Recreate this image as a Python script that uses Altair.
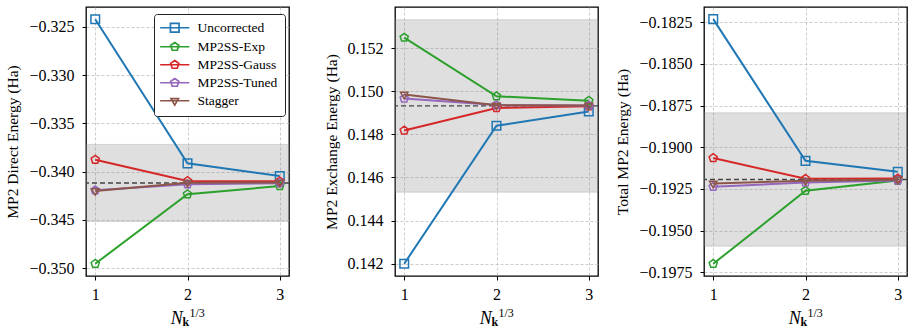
import altair as alt
import pandas as pd

# k-point mesh size (cube root of N_k)
n_k = [1, 2, 3]

series = ["Uncorrected", "MP2SS-Exp", "MP2SS-Gauss", "MP2SS-Tuned", "Stagger"]
colors = ["#1f77b4", "#2ca02c", "#d62728", "#9467bd", "#8c564b"]

# MP2 direct energy (Ha)
direct_uncorrected = [-0.32420, -0.33914, -0.34046]
direct_exp = [-0.34955, -0.34235, -0.34149]
direct_gauss = [-0.33876, -0.34097, -0.34100]
direct_tuned = [-0.34194, -0.34132, -0.34120]
direct_stagger = [-0.34200, -0.34114, -0.34113]

# MP2 exchange energy (Ha)
exchange_uncorrected = [0.14200, 0.14840, 0.14906]
exchange_exp = [0.15249, 0.14977, 0.14956]
exchange_gauss = [0.14818, 0.14922, 0.14931]
exchange_tuned = [0.14966, 0.14936, 0.14934]
exchange_stagger = [0.14985, 0.14935, 0.14934]

# total MP2 energy (Ha)
total_uncorrected = [-0.18232, -0.19082, -0.19148]
total_exp = [-0.19700, -0.19262, -0.19200]
total_gauss = [-0.19065, -0.19190, -0.19188]
total_tuned = [-0.19238, -0.19212, -0.19200]
total_stagger = [-0.19218, -0.19202, -0.19195]

# converged reference and the +/- 4 mHa window around it
ref_values = [-0.34118, 0.14932, -0.19194]
band_lo = [-0.34518, 0.14532, -0.19594]
band_hi = [-0.33718, 0.15332, -0.18794]

y_titles = ["MP2 Direct Energy (Ha)", "MP2 Exchange Energy (Ha)", "Total MP2 Energy (Ha)"]
y_domains = [[-0.35082, -0.32293], [0.14143, 0.15391], [-0.19773, -0.18159]]
y_ticks = [
    [-0.350, -0.345, -0.340, -0.335, -0.330, -0.325],
    [0.142, 0.144, 0.146, 0.148, 0.150, 0.152],
    [-0.1975, -0.1950, -0.1925, -0.1900, -0.1875, -0.1850, -0.1825],
]
y_formats = [".3f", ".3f", ".4f"]

panels = [
    [direct_uncorrected, direct_exp, direct_gauss, direct_tuned, direct_stagger],
    [exchange_uncorrected, exchange_exp, exchange_gauss, exchange_tuned, exchange_stagger],
    [total_uncorrected, total_exp, total_gauss, total_tuned, total_stagger],
]

PLOT_W = 203
PLOT_H = 269
FONT = "Liberation Serif"

PENTAGON = "M0,-1L0.951,-0.309L0.588,0.809L-0.588,0.809L-0.951,-0.309Z"
TRI_DOWN = "M0,1L-0.866,-0.5L0.866,-0.5Z"
SQUARE_PATH = "M-1,-1L1,-1L1,1L-1,1Z"
markers = ["square", PENTAGON, PENTAGON, PENTAGON, TRI_DOWN]

# legend glyphs: a short line with the hollow marker sitting on it
LINE = "M-3.4,0L3.4,0"
legend_glyphs = [LINE + SQUARE_PATH, LINE + PENTAGON, LINE + PENTAGON, LINE + PENTAGON, LINE + TRI_DOWN]

legend = alt.Legend(
    title=None,
    orient="none",
    legendX=68,
    legendY=7,
    padding=7,
    symbolOffset=7,
    labelOffset=16,
    rowPadding=3,
    symbolSize=74,
    symbolStrokeWidth=1.7,
    symbolOpacity=1,
    labelFont=FONT,
    labelFontSize=13.5,
    labelFontWeight="normal",
    labelColor="black",
    strokeColor="#222222",
    cornerRadius=3,
    fillColor="white",
)


def x_title_part(text, x, dy, size, style="normal", weight="normal"):
    return (
        alt.Chart(pd.DataFrame({"t": [text]}))
        .mark_text(
            align="left",
            baseline="alphabetic",
            font=FONT,
            fontSize=size,
            fontStyle=style,
            fontWeight=weight,
            color="black",
        )
        .encode(text="t:N", x=alt.value(x), y=alt.value(PLOT_H + dy))
    )


def make_panel(i):
    rows = []
    for name, vals in zip(series, panels[i]):
        for xv, yv in zip(n_k, vals):
            rows.append({"n_k": xv, "energy": yv, "series": name})
    df = pd.DataFrame(rows)

    x_enc = alt.X(
        "n_k:Q",
        scale=alt.Scale(domain=[0.9, 3.1], nice=False, zero=False),
        axis=alt.Axis(values=n_k, format="d", title=None, labelPadding=6),
    )
    y_scale = alt.Scale(domain=y_domains[i], nice=False, zero=False)
    y_axis = alt.Axis(
        values=y_ticks[i], format=y_formats[i], title=y_titles[i],
        labelPadding=8, titlePadding=8,
    )
    y_enc = alt.Y("energy:Q", scale=y_scale, axis=y_axis)

    band = (
        alt.Chart(pd.DataFrame({"lo": [band_lo[i]], "hi": [band_hi[i]]}))
        .mark_rect(fill="gray", fillOpacity=0.25, stroke="gray", strokeOpacity=0.25, strokeWidth=1)
        .encode(
            x=alt.value(0),
            x2=alt.value("width"),
            y=alt.Y("lo:Q", scale=y_scale, axis=y_axis),
            y2="hi:Q",
        )
    )
    ref = (
        alt.Chart(pd.DataFrame({"ref": [ref_values[i]]}))
        .mark_rule(color="#444444", strokeDash=[5, 3], strokeWidth=1.3)
        .encode(y=alt.Y("ref:Q", scale=y_scale, axis=y_axis))
    )

    layers = [band, ref]
    for name, color, shape in zip(series, colors, markers):
        base = alt.Chart(df).transform_filter(alt.datum.series == name)
        line = base.mark_line(color=color, strokeWidth=2).encode(x=x_enc, y=y_enc)
        pts = base.mark_point(
            shape=shape, size=74, filled=False, strokeWidth=1.5, opacity=1, color=color
        ).encode(x=x_enc, y=y_enc)
        layers += [line, pts]

    if i == 0:
        # draws nothing itself; carries the series legend
        key = (
            alt.Chart(df)
            .transform_filter("false")
            .mark_point(filled=False, strokeWidth=1.7)
            .encode(
                x=x_enc,
                y=y_enc,
                color=alt.Color("series:N", scale=alt.Scale(domain=series, range=colors), legend=legend),
                shape=alt.Shape("series:N", scale=alt.Scale(domain=series, range=legend_glyphs), legend=legend),
            )
        )
        layers.append(key)

    layers += [
        x_title_part("N", 84.7, 48, 18, style="italic"),
        x_title_part("k", 96.5, 50, 12, weight="bold"),
        x_title_part("1/3", 103.5, 40.5, 12),
    ]
    return alt.layer(*layers).properties(width=PLOT_W, height=PLOT_H)


chart = (
    alt.hconcat(make_panel(0), make_panel(1), make_panel(2), spacing=106, bounds="flush")
    .properties(padding={"left": 5, "top": 6, "right": 0, "bottom": 0})
    .configure_view(stroke="black", strokeWidth=1.3)
    .configure_axis(
        labelFont=FONT,
        labelFontSize=16,
        labelColor="black",
        titleFont=FONT,
        titleFontSize=15.5,
        titleFontWeight="normal",
        titleColor="black",
        tickColor="black",
        tickSize=4,
        tickWidth=1,
        domain=False,
        grid=True,
        gridColor="#b0b0b0",
        gridDash=[3, 2],
        gridWidth=0.8,
        gridOpacity=0.8,
    )
)

chart.save("out.html", embed_options={"renderer": "svg", "actions": False})
